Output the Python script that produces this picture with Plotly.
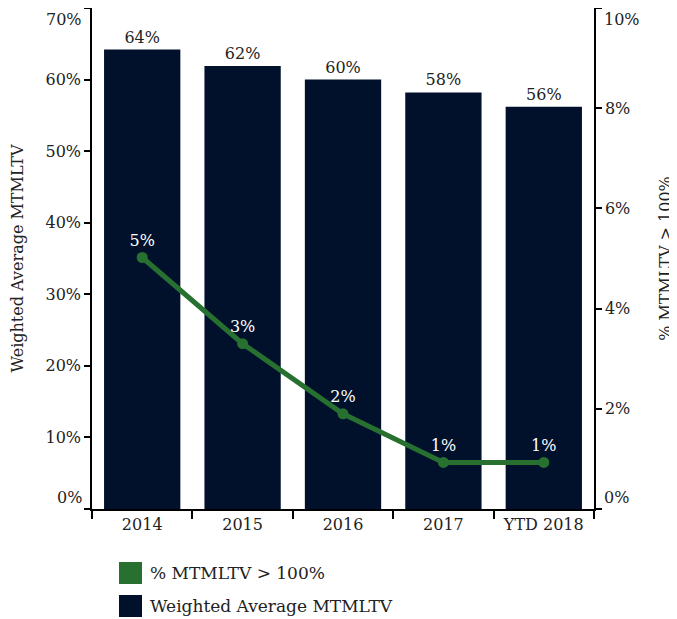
import plotly.graph_objects as go

categories = ["2014", "2015", "2016", "2017", "YTD 2018"]
weighted_avg_mtmltv = [64.2, 61.9, 60.0, 58.2, 56.2]
pct_mtmltv_over_100 = [5.02, 3.3, 1.9, 0.93, 0.93]
left_ticks = [0, 10, 20, 30, 40, 50, 60, 70]
right_ticks = [0, 2, 4, 6, 8, 10]

NAVY = "#01112C"
GREEN = "#277030"
FONT = "DejaVu Serif"
TXT = "#222222"

# page has an 8px body margin; figure coords = page coords - 8
W, H = 669, 611
L, R, T, B = 84, 83, 0, 110

fig = go.Figure()
fig.add_trace(go.Bar(
    x=categories, y=weighted_avg_mtmltv, name="Weighted Average MTMLTV",
    marker=dict(color=NAVY, line=dict(width=0)),
    texttemplate="%{y:.0f}%", textposition="outside", cliponaxis=False,
    textfont=dict(family=FONT, size=16, color=TXT),
    showlegend=False,
))
fig.add_trace(go.Scatter(
    x=categories, y=pct_mtmltv_over_100, name="% MTMLTV > 100%", yaxis="y2",
    mode="lines+markers+text",
    line=dict(color=GREEN, width=5), marker=dict(color=GREEN, size=11),
    texttemplate="%{y:.0f}%", textposition="top center",
    textfont=dict(family=FONT, size=16, color="white"),
    showlegend=False,
))

axis_common = dict(showline=True, linecolor="black", linewidth=1.5,
                   ticks="outside", tickcolor="black", tickwidth=1.5,
                   showgrid=False, zeroline=False,
                   tickfont=dict(family=FONT, size=16, color=TXT))

def inner_labels(ticks):
    # end labels are drawn as annotations, nudged inward like the original
    return ["" if v in (ticks[0], ticks[-1]) else f"{v}%" for v in ticks]

fig.update_layout(
    width=W, height=H,
    margin=dict(l=L, r=R, t=T, b=B, pad=0, autoexpand=False),
    paper_bgcolor="white", plot_bgcolor="white",
    bargap=0.24,
    xaxis=dict(type="category", tickson="boundaries", ticklen=8, **axis_common),
    yaxis=dict(range=[left_ticks[0], left_ticks[-1]], tickmode="array", tickvals=left_ticks,
               ticktext=inner_labels(left_ticks), ticklen=6,
               title=dict(text="Weighted Average MTMLTV",
                          font=dict(family=FONT, size=16, color=TXT), standoff=18),
               **axis_common),
    yaxis2=dict(range=[right_ticks[0], right_ticks[-1]], tickmode="array", tickvals=right_ticks,
                ticktext=inner_labels(right_ticks), ticklen=6,
                overlaying="y", side="right",
                title=dict(text="% MTMLTV > 100%",
                           font=dict(family=FONT, size=16, color=TXT), standoff=30),
                **axis_common),
)

for v, ys in ((left_ticks[0], 12), (left_ticks[-1], -11)):
    fig.add_annotation(xref="paper", yref="y", x=0, y=v, text=f"{v}%", showarrow=False,
                       xanchor="right", yanchor="middle", xshift=-8, yshift=ys,
                       font=dict(family=FONT, size=16, color=TXT))
for v, ys in ((right_ticks[0], 12), (right_ticks[-1], -11)):
    fig.add_annotation(xref="paper", yref="y2", x=1, y=v, text=f"{v}%", showarrow=False,
                       xanchor="left", yanchor="middle", xshift=8, yshift=ys,
                       font=dict(family=FONT, size=16, color=TXT))

# manual legend (page pixel positions converted to paper coords)
pw, ph = W - L - R, H - T - B
def px_x(px):
    return (px - 8 - L) / pw
def px_y(py):
    return (H - B - (py - 8)) / ph

legend_items = [("% MTMLTV > 100%", GREEN, 562), ("Weighted Average MTMLTV", NAVY, 595)]
for label, color, top in legend_items:
    fig.add_shape(type="rect", xref="paper", yref="paper",
                  x0=px_x(119), x1=px_x(142), y0=px_y(top + 22), y1=px_y(top),
                  fillcolor=color, line=dict(width=0))
    fig.add_annotation(xref="paper", yref="paper", x=px_x(148), y=px_y(top + 11),
                       text=label, showarrow=False, xanchor="left", yanchor="middle",
                       font=dict(family=FONT, size=17, color=TXT))

fig.write_html("out.html")
